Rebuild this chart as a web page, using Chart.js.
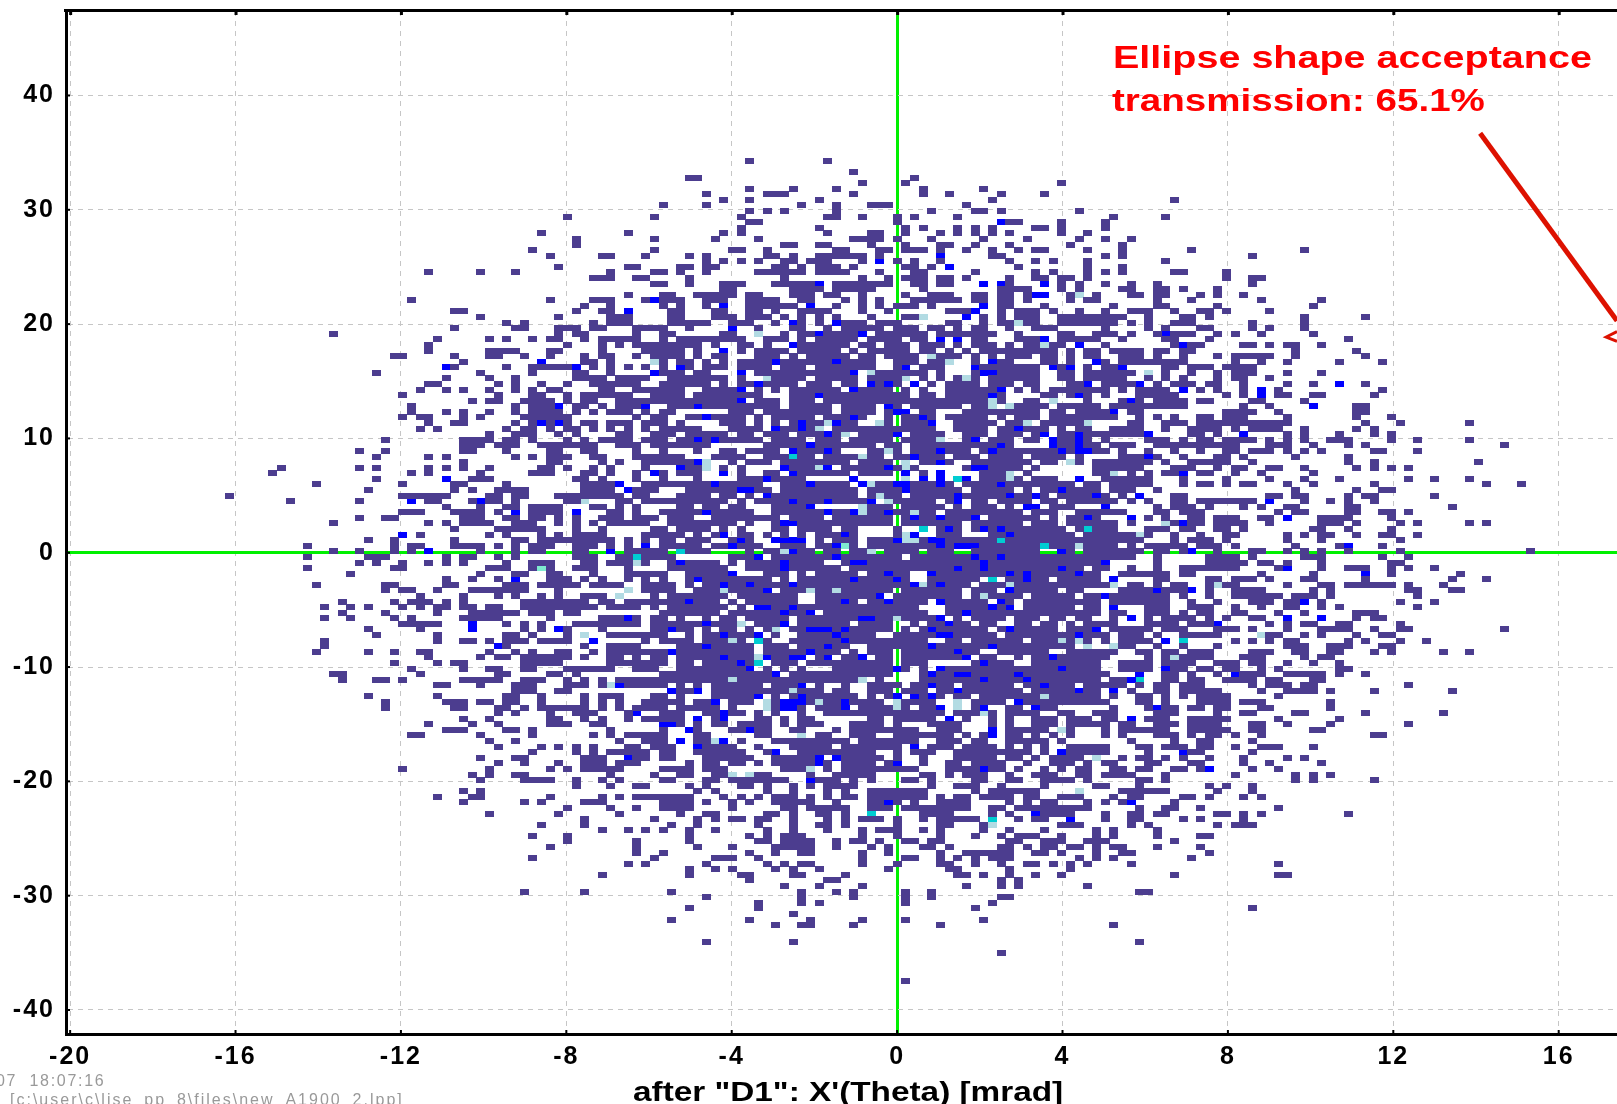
<!DOCTYPE html>
<html><head><meta charset="utf-8">
<style>html,body{margin:0;padding:0;background:#fff}canvas{display:block}</style>
<script src="https://cdn.jsdelivr.net/npm/chart.js@4"></script>
</head><body><canvas id="c" width="1617" height="1104"></canvas>
<script>
// Histogram bins: [row index, "col col:col ..."]
// prefix b = blue, p = pale, c = cyan, t = aqua; no prefix = dark (count 1)
const upperLeft = [[60,"-38 -28"],[57,"-41 -31"],[56,"-37 -28"],[55,"-37"],[54,"-42 -28"],[53,"-40 -34:-33 -29"],[51,"-39 -31:-30"],[50,"-54 -48 -44 -33 -28"],[49,"-35:-33 -30:-29"],[48,"-28"],[46,"-31"],[45,"-56 -40 -35:-33 -29 b-28"],[44,"-36 -33"],[43,"-51:-50 -37 -34:-33 b-31"],[42,"-48 -39 -33:-31"],[41,"-45 -43 -35 -33:-31"],[40,"-51 -44:-43 -39:-37 -35:-34 -30:-27"],[39,"-65 -39 -37:-36 -30"],[38,"-53 -47 -45 -42 -40:-39 -36 -34:-30"],[37,"-54 -38 -34 -32 -30:-27"],[36,"-54 -47 -46:-44 -40:-39 -34 -29:-27"],[35,"-58:-57 -51 -47:-46 -43 -40 -36 -34:-33 -30 -28:-27"],[34,"-50 b-41 -36:-35 -33 p-28"],[33,"b-52 -51 -45 -42:-39 -38 b-37 -35 -33 -31 -29"],[32,"-60 -48 -42 -37:-36 -33 b-28"],[31,"-52 -47 -44 -37:-34 -32:-29"],[30,"-54:-53 -46 -44 -41 -38 -35:-30"],[29,"-55 -52 -50 -47 -44 -42 -40:-39 -34:-33 -30:-27"],[28,"-57 -46 -42:-41 -38 -36:-33 -32:-31 -28"],[27,"-49 -47:-46 -43:-40 -38 -36:-35 -32:-27"],[26,"-56 -44 -42:-40 b-39 -37:-36 -34 -32:-30 b-29"],[25,"-56 -52 -50 -47 -44 -42:-39 -37 -35 -33:-31 -29"],[24,"-57 -55:-54 -50 -48 -43:-38 -30 -28:-27"],[23,"-54 -51:-50 -44 -42 b-41 -40 b-39 -38 -36:-35 -33:-31 -29:-27"],[22,"-55 -53 -45 -43:-42 -40 -38:-37 -35 -33 -31 -29"]];
const middleLeftOuter = [[20,"-59"],[18,"-62 -59"],[17,"-60 -54 -52"],[15,"-71 -62 -60 -54 -52 -47"],[14,"-72 -56 -54"],[13,"-60"],[12,"-67 -57"],[11,"-61"],[10,"-77"],[9,"-70 -62 b-56"],[7,"-55"],[6,"-62 -59:-58"],[5,"-65 -54 -52"],[3,"b-57 -55"],[2,"-61 -58"],[1,"-68 -58 -56:-55"],[0,"-65 -62 -58 -56 b-54"],[-1,"-68 -61:-60 -59"],[-2,"-62 -60 -57 -54 -52"],[-3,"-68 -58:-57"],[-4,"-63"],[-6,"-67 -59:-58"],[-7,"-59 -57:-56 -53"],[-8,"-55"],[-9,"-64 -58 -56:-54"],[-10,"-66 -63 -61 -57 -55 -53"],[-11,"-64 -59"],[-12,"-66 -63 -58 -56"],[-13,"-57:-53"],[-14,"-61 -55"],[-15,"-60 -53"],[-16,"-66 -53"],[-17,"-66"],[-18,"-67 -61 -58 -55:-54"],[-19,"-54"],[-20,"-58 -53 -51:-50"],[-21,"-56 -50"],[-22,"-65:-64 -55"],[-23,"-64 -60:-59 -57"],[-24,"-53:-52"],[-26,"-61 -53"]];
const middleLeftInner = [[21,"-47 -44:-42 -39 -37 -32:-31 -28"],[20,"-50:-47 -45:-44 -42 -38 -36 -34:-31 -29:-27"],[19,"-50:-48 -46:-44 -41:-38 -37:-35 -32:-30 -28"],[18,"-50:-49 -45 -40:-39 -36:-35 -30"],[17,"-44 -42 -40:-38 -35:-34 -30:-27"],[16,"-50 -40:-39 -34 -32 -29:-27"],[15,"-50 -41:-40 -38 -35 -33 -29"],[14,"-48 -42:-40 -36:-35 -33 -30 b-28"],[13,"b-52 -49:-47 -37:-36 -34 -30"],[12,"-51:-50 -45 -36:-33 b-32 -29:-28"],[11,"-51 -49 -46:-45 -44:-43 -36:-33 b-31 -30:-28"],[10,"-57:-52 -47:-46 -44:-43 -39:-37 -36:-32 -30:-29"],[9,"-54:-53 -49 b-48 -47:-46 -44 -38:-37 p-36 -32:-31 -29:-27"],[8,"-52 -48 -45:-44 -42:-39 -35:-34 -32 -30"],[7,"-57:-56 -51:-48 -46 b-44 -42:-39 b-37 -33:-32 -30"],[6,"-50:-48 -45:-44 -42:-41 -39 -37 -34:-32 -30:-28 b-29"],[5,"-50:-47 -44:-42 -39 -37 -35 -33:-29"],[4,"-51 -46:-44 -43:-41 -37 -34 -28:-27"],[3,"-47 -45 -41 -39 -37:-34 -29:-27"],[2,"-51 -44:-43 -41:-38 -37:-33 -31 -29"],[1,"-51:-48 -46 -44 -42:-40 -37:-35 -33 -31 b-29"],[0,"-48 -44 -42:-41 -37:-36 b-33 -31:-27"],[-1,"-52 -50:-49 -46 -44 -37:-35 -32:-31 c-30 -29:-27"],[-2,"-50 -45 -42:-40 -36:-35 -33:-31 p-30 -29"],[-3,"-47:-45 -42 t-41 -40 -37:-35 -31"],[-4,"-48 -44:-43 -40:-39 -35 -31:-27"],[-5,"-52 -49 -46 b-44 -40:-38 -36 -34 -31 -29"],[-6,"-52:-51 -45:-43 -41:-37 -35:-32 -29:-27"],[-7,"-49:-46 -45:-43 -39 p-31 -29:-28"],[-8,"-50 -46 -44 -41 -39 -36:-34 p-32 -28"],[-9,"-52 -50 -43:-36 -34:-33 -31:-28"],[-10,"-52 -50:-49 -47:-46 -43:-35 -33:-30 -28"],[-11,"-53 -49:-48 -47:-44 -42:-40 -38:-37"],[-12,"-50 -49:-46 -40 -34:-32 b-31 -30 -28:-27"],[-13,"b-49 -45 -43 -41 -37:-34 -33:-30 -28:-27"],[-14,"b-49 -43 -41 b-39 -38 -34 -28:-27"],[-15,"-45:-44 -42 -38 p-36 -33:-28"],[-16,"-50:-49 -47 -45:-43 -41:-38 b-35 -29 -27"],[-17,"b-46 -45 -36 -33:-30"],[-18,"-47 -44 -42 -39:-38 -35 -33:-27"],[-19,"-48 -46:-45 -43:-38 -36 -33:-32 -30 -28"],[-20,"-43:-39 -33:-28"],[-21,"-47:-46 -43:-42 -38:-33 -30:-28"],[-22,"-46:-45 -40:-39 -37"],[-23,"-50:-46 -43:-41 -38 -36 -34 -32:-27"],[-24,"-48 -44:-42 -38:-37 -36 -34 p-33 b-32 -31:-27"],[-25,"-44:-42 -39:-38"],[-26,"-45:-44 -41 -36 -34:-32 -28"],[-27,"-59 -52:-50 -48:-47 -45:-44 -41 -36 -34 -32 -29:-28"]];
const lowerLeft = [[-28,"-59 -51:-50 -46:-45 -43 -41:-37 -36 -34 -32 -30:-27"],[-29,"-46 -44 -40 -37:-36 -35 -31 b-30"],[-30,"-50 -47 -40:-39 -36 -34 -31 -29:-27"],[-31,"-54 -49 -46 -40:-38 -35:-34"],[-32,"-52:-50 -45:-44 -42 -33"],[-33,"-56:-55 -48 -42 -35 -33 -31:-28"],[-34,"-47 -44 -32 -29:-28"],[-35,"-46 -41 -39 -37 -35 -31:-30 -28:-27"],[-36,"-42 -37 -35 -33:-31 -30:-29"],[-37,"-48 -44:-43 -36:-34 b-31 -30:-29"],[-38,"-46 -43 -39 -36:-34 -32:-30"],[-39,"-57 -47 -40 -38 -36:-32"],[-40,"-49 -47 -44:-43 -33 -28"],[-41,"-48 -43:-40 -37 -34 -32"],[-42,"-37 -33 -30:-29"],[-43,"-50 -48"],[-44,"-53 -49:-48 -40 -34 -32 -30:-27"],[-45,"-50 -43 -41 -36:-34"],[-46,"-38 -33 -30"],[-47,"-47 -39 -32"],[-48,"-36 -28"],[-49,"-41 -36"],[-50,"-34 -31 -29"],[-51,"-42 -38"],[-52,"-38 -30"],[-53,"-40 -30"],[-54,"-30"],[-55,"-42 -28"],[-56,"-31 -29"],[-58,"-34"],[-61,"-43 -36"]];
const upperCentre = [[70,"-17 -8"],[68,"-5"],[67,"-24:-23 2"],[66,"-4 1 19"],[65,"-17 -12 -7 3 10"],[64,"-22 -15:-13 -5 3 6 12 17"],[63,"-20 -17 -9 11"],[62,"-27 -22 -11 -7 -3:-1 8"],[61,"-17 -15 -13 -7 4 9:10 12 21"],[60,"-18 -8:-7 -4 0 2 7"],[59,"-17:-16 0 b12 13:14 19"],[58,"-18 -9 1 3 7 9 11 16:17 19"],[57,"-20 -18 -8 -3:-2 1 5 7 9 11 13 19 22"],[56,"-21 -16 -5:-2 0 4 10 15 21"],[55,"-13:-12 -9:-8 -3 1 5:6 9 13 20"],[54,"-19:-18 -15 -7:-6 -2:-1 1:3 5 8 11 14 16:17 22"],[53,"-24 -22 -15:-14 -12 -9:-7 -6:-4 -2 b5 11:12"],[52,"-22 -20 -18 -16 -13:-12 -10:-8 -4 b-2 0 2 5 13 16 18 22"],[51,"-25:-24 -22:-21 -14:-13 -11 -9:-7 -5 1:2 4 b6 14 22"],[50,"-27 -25 -22 -16:-11 -9:-6 -2 2:3 9 16 18 22"],[49,"-24 -13 -4 -1 1:3 5:6 8 13 16:17 19:20 22"],[48,"-27 -24 -20:-19 -18 -14:-10 b-9 -7:-2 -1 2:3 5:6 b10 b12 13 b17 19 21"],[47,"-20:-19 -12:-10 -9 -7:-4 -3 3 12:15 19 21"],[46,"-27:-26 -23:-19 -17:-16 -12:-10 -8:-7 -4 1 4:6 9:10 12:13 15 b16:17 20 p21 23"],[45,"-27:-25 -22:-20 -17:-14 -11:-10 -6 -4 -2 2:3 4:7 9:10 12:13 15 20 22:23"],[44,"-27 -25 -22 b-20 -17:-12 b-10 -7 -4 -2 0:2 4 b10 12:13 17"],[43,"-26:-25 -21:-20 -17:-16 -14 -11:-8 -4 -1 6:8 b9 12 14:16 18 21"],[42,"-26:-25 -21:-19 -17:-15 -13 -11 -9 -7 -3 1:2 p3 b8 10 12 14:16 19:23"],[41,"-26:-24 -23:-22 -19:-17 -14 b-12 -11 -9 b-7 -6:-4 -2:0 6:7 10 12:13 p14 15:16 19:23"],[40,"-24 b-19 -16 -12:-11 -8 -6:-2 0:2 4:5 7 9:10 13 16:18"],[39,"-27:-26 -20:-19 p-16 -13 -11:-10 b-9 -8:-5 b-4 -2:1 2:3 5:6 7:11 14 19 20 23"],[38,"-27 -25:-20 -19:-18 -15 -14:-13 -11 -9:-6 -5 -3:0 2 3 b5 b7 9:10 14 15:16 b17 19:23"],[37,"-26:-23 -21 -18:-17 -15 b-12 -11:-7 -6 -4:-3 -1:1 3:5 7 9:11 13 15:16 p17 18 19 b21"],[36,"-27:-25 -23 b-20 -18 -16:-13 -11:-7 -5 -3:-2 -1:1 3:4 6 8 10:13 14:17 18 20 22:23"],[35,"-27:-25 -23 -21 -20 -16:-14 -12 -10:-6 -4 -3 -1:0 1:2 p4 5:7 9 11 13:15 17:18 20 22:23"],[34,"-27 -25:-24 -22 -20 -18:-15 b-14 -13:-10 -9:-8 b-7 -6:-3 0:2 4:5 p6 9 b11 12:13 17:18 20 b23"],[33,"-27 b-25 -24 -22:-20 -18:-15 -13 -12:-11 -9:-7 -6 -5:-4 -3 0 b1 3 4:5 b9 10 11:12 13:16 b18 19 b20 22"],[32,"-27:-25 -23:-22 b-18 -16:-10 -9:-8 -7 -6 b-5 p-3 -2:2 3 5 9 b10:11 12:13 14:16 19:20 22:23"],[31,"-26:-21 -20 -18 p-15 -14:-11 -9:-7 -6 -5 -3 -2:0 p1 3 5 7 p8 9 11:16 19:20 22:23"],[30,"-27:-24 -23:-22 -20 -18:-17 b-16 -15 -14:-12 -10 -9 -8 -6:-5 b-3 -2 b-1 0 b2 4 6:9 11:13 15:16 20 21 b22"],[29,"-27:-25 -22:-19 b-18 -16 -14 -12:-7 b-5 -4:-1 1 3 6:10 11 b12 14 16 18:23"],[28,"-27:-25 -23:-19 -18:-16 -12:-10 b-9 -8:-7 -6:1 3:4 6:10 b11 12 17 18 20 b21 22"],[27,"-26:-22 b-24 -21:-19 b-18 -16:-15 -14 -12:-10 -8:-7 -6:2 3:5 6:10 p11 12 15:16 p18 22"],[26,"-26 -25:-24 b-23 -22:-15 -14 -12:-8 -6:-4 -3 b-1 0 2:6 7 9:10 p11 p13 14:17 19:23"],[25,"-27:-26 -19:-17 -15:-11 -10:-8 -6:-3 -1 b0:1 3:4 8:16 18 19 21 22:23"],[24,"-24:-23 b-22 -21:-18 -16 -14:-10 -8 -7:-6 b-5 -4 -1 1 2 b3 4 6 7:10 12 14:16 18:23"],[23,"-27 -25 -20:-18 -16 -14 -12 b-11 -10:-9 p-8 b-7 -6 -5 p-2 -1 1:3 b4 7:11 13:14 p15 17:21 p22"],[22,"-27:-23 -19:-16 b-14 -13:-12 b-11 -10 p-9 -7 -6:0 1:4 7:10 12:13 b14 15:17 19 21 22"]];
const middleCentreTop = [[21,"-27:-26 -24:-20 -18:-17 -15:-13 -11:-9 b-8 -7 p-6 -4:-1 b0 2:5 8:10 12:14 16 b17 19:20 b21 22:23"],[20,"-27 -25:-24 b-23 -22 b-21 -20:-16 -14:-12 -11 -9:-7 -5:-4 -3:-1 1:4 p5 8 b9 11:13 15 16 b18 19 20 b21 22"],[19,"-27:-22 -15:-11 b-10 -9:-3 -1:0 2:11 b12 13 b18 19:20 b21 22:23"],[18,"-27 -23 -20:-19 -17:-14 b-12 -11:-10 -9 b-8 -7 -3:-2 p-1 0 2:4 b5 6:8 10 b11 12:18 b19 20 b21:22 23"],[17,"-27:-25 -21:-19 -18 -15:-13 c-12 -11:-10 -8:-5 p-4 -3 -2 0 1 b2 3:5 7:9 11:14 16:19 21"],[16,"-27:-24 b-23 p-22 -19 -17:-15 -13:-10 -9:-6 -4:-3 -2:-1 p1 3:4 b5 6 9:15 17:18 p20 21 23"],[15,"b-25 -24 -23 p-22 -20 -18 b-13 -12:-10 p-9 b-8 -6:-4 -3:-2 b-1 0 p1 2 8 b9:10 11:14 16 23"],[14,"-27 -25:-23 b-20 -18 -15:-14 b-12 -11:-7 -6 -4:-3 -2:-1 b1 3 b5 10:12 p13 15 23"],[13,"-27 -23 -18:-16 b-15 -14:-11 b-5 p1 b3 b5 c7 b8 10:12 p13 14 16:18 b21"],[12,"-27:-22 b-21 -20:-16 -13:-11 b-10 -9:-7 -6 b-4 p-3 -2:-1 b0:1 2:4 b5 6 8:11 b12 13:20 22:23"],[11,"-24:-19 b-18:-17 -16:-15 -13:-5 -3:-1 0 b1 2:7 9:13 15 17:18 b19 20:23"],[10,"-25:-22 -20:-19 -17 b-15 -14:-5 -3 p-2 -1:0 2:6 b7 8:12 b13 14:15 b16 17 19:22 b23"],[9,"-27:-20 -18 -16:-13 b-12 -11:-9 b-8 -7:-4 b-3 p-1 0:3 4 6 b7 9:10 12:15 17:18 20:23"],[8,"-25:-24 -22:-21 -19:-18 -14:-12 -11 b-10 p-4 -3:-1 1:5 7 9:11 13 b15:16 18:20"],[7,"-27:-23 b-22 -21:-17 -14 -13:-9 b-8 -7:-6 b-5 p-4 -3:-2 b-1 0:1 p2 3:4 6:14 16:18 21:23"],[6,"-26:-24 -21:-14 -12:-9 -7:-3 -2:-1 1 b2 3:4 b5 6:8 b9 11:16 18 20:21 b22 23"],[5,"-26:-19 -17 -14 b-13:-12 -11:-4 -3:-1 1:7 9:14 16:18 20:23"],[4,"-27 -25:-22 -20 -18 -14 -13 -11:-9 -8 -6:-5 0 c3 5 b6 7 9 b10 11 b12 13:16 17:19 21 c22 23"],[3,"-27:-25 -23 -21 b-20 -18:-17 -15 -13 -11 -9:-7 b-6 -5 0 p1 b2 5:7 11:12 b13 14:20 22:23"],[2,"-27:-26 -24:-22 -19 b-18 -17 b-14:-11 -9 -7:-5 -3:-1 b0 p1 p2 3 b4:5 6:11 c12 13:23"],[1,"-27:-23 -21:-20 b-19 -18:-16 -13 -12:-11 -9:-8 b-7 t-6 -5 -3:4 b5 6 b7:9 10:16 c17 18:20 p21 22:23"],[0,"-27 c-25 -24:-23 -22 -17 -15 -14 p-13 b-12 -11:-10 -8:-7 -5 -4 p-3 -1:2 4:6 9 10:16 b19 20 22:23"]];
const middleCentreLow = [[-1,"-27:-26 -19 -18:-17 b-16 -14:-13 -12:-8 b-7 -6:0 2:8 b9 10:11 b12 13:23"],[-2,"-26 b-25 -24:-21 -19 -17:-15 -14 b-13 -12:-9 -6 b-5:-4 -3:9 b10 11:23"],[-3,"-26:-20 -17:-14 b-13 -12:-7 -5:-2 -1:6 b7 8:9 b10 11:18 b19 20:21 23"],[-4,"-27 -24:-20 b-19 -15:-13 -11 -9:-5 -3:-2 b-1 0:1 b4 5:12 b13 14 b15 16:20 b21 22:23"],[-5,"-27 -24 b-23 -22:-15 -13 -11:-6 b-5 -4:-2 -1 b0 1 4:5 6:9 c11 13:14 b15 16:17 19:23"],[-6,"-27:-26 -24 -22:-21 b-20 -19:-18 b-17 -16:-13 b-12 -11:-3 -2 -1 0:1 b2 p3 4 b5 6:8 10:12 p13 14:23"],[-7,"-27 -26 -23:-21 p-20 -19:-16 b-15 -13:-11 p-10 -9:-8 p-7 -6:-3 -2:-1 1:7 9:11 b13 14:18 20:21"],[-8,"-26:-20 -18:-16 -15:-12 -9:-5 -4 -3 b-2 0:7 9 p10 11:14 16:20 22:23"],[-9,"-27:-25 b-24 -23:-21 -19 -17:-12 -9:-7 b-6 -5 -3:-2 b-1 0:3 b5 6:10 b12 13 15:23"],[-10,"-26:-22 -21:-20 -18 b-16:-15 -14:-13 b-12 -11:-9 -8:-1 0:2 6:10 b11 12 b13 15:20 22:23"],[-11,"-27:-21 -19 -18:-14 b-13 -12:-11 b-10 -8:-1 0:2 3 6:7 b8 9:15 16:23"],[-12,"-27 -25 -22 -20:-19 -17:-13 -11:-5 b-4:-3 -2:-1 p0 1:4 b5 7 9:12 14:16 18 19 21:22"],[-13,"-27:-24 -23 b-22 -21:-19 p-18 -16:-15 -14 b-13 -11:-6 -4:-2 -1 2 4:5 b6 7:8 10:11 14:15 17:18 20 22:23"],[-14,"-27 b-26 -25:-24 -22 -20:-19 -17 -15 p-14 -12:-11 b-10:-8 -7 b-6 -5:-2 -1 1 3 b4 5:10 12 b13 14:18 20 21:22 b23"],[-15,"-27 -24 -22:-21 b-20 -19:-17 b-16 -14 -11:-8 b-7 -6:-3 0:2 3:4 b5:6 7:11 13:20 b21 22:23"],[-16,"-27:-24 -22:-20 p-19 -18 c-16 -15 -12:-7 b-6 -5:-1 0:3 6:7 9:14 16:18 p19 20 p21 22"],[-17,"-25:-24 -23 b-22 -21:-17 -15:-13 -11:-9 b-8 -7:-6 -3:3 b4 5:9 10 b11 12:20 p22"],[-18,"b-26 -25:-22 -21:-17 -15:-11 b-10 -9:-7 -5 -3:-1 1:6 b7 8:9 12:17 20:23"],[-19,"-27 -25:-21 b-20 -19:-17 p-16 b-15 -14:-13 b-12:-11 -9 b-8 -6:-5 b-4 -2 -1 1:7 b8 10:11 14 16:17 b18 19:23"],[-20,"-27 -25:-24 -22:-19 b-18 -17 c-16 -14:-12 -10:-7 -6:-2 -1 1:3 9 b10 11:13 16:23"],[-21,"-25:-18 b-17 -15 -13 -11 -7:-1 b0 1 3 b5 6:18 b19 20:23"],[-22,"-27:-15 b-14 -12:-2 -1 3 b4 5:6 b7:8 9:13 b14 15:23"],[-23,"-27:-20 p-19 -18:-15 -14:-10 -9:-6 -5 p-4 -2 3:9 b10 11:14 b15 16:23"],[-24,"-25 -23 -21 -20:-16 -14:-12 b-11 -9 -6 -3:-1 0 2:3 b4 5:6 8:13 15:16 b17 18:20 22:23"],[-25,"b-26 -25:-24 b-23 -21:-13 p-12 -11:-9 -7 -6 -3:-1 1:3 5:6 b7 8:14 16:20 b21 22:23"],[-26,"-27 -25 -21:-17 b-16 -14 -12 b-11 -10:-5 -3 -1 b0 b2 3 b4 5 7:8 10:16 p17 18:23"],[-27,"-27:-25 -23:-22 b-21 -19:-17 p-15 -14 b-13:-11 -10 p-9 -8:-7 b-6 -5:-2 p0 1:4 p7 9:12 b14 15:23"]];
const lowerCentre = [[-28,"-25:-23 -22:-21 -19 p-15 -14 b-13:-12 -11 -9:-7 b-6 -4:-1 p0 1 3:4 b5 p7 9 b10 13:14 b16 17:18"],[-29,"-27:-25 -22:-21 b-20 -19:-18 -16 -14 -11 -8:-5 -4:-1 0:5 7:9 p10 11 13:16 19:20 23"],[-30,"-27:-25 b-23 -21 b-20 -16:-15 -13 -11:-10 -3:-2 0 1:4 b6 8 11 13 16:18 20:22"],[-31,"b-27:-26 -25 -23 -21:-20 -18:-15 -13 -11:-9 -5:-2 0 4:7 11 13 16:18 20:23"],[-32,"-27 b-24 -23 -19:-18 b-17 -16:-15 -12 -11 -7 -5:-1 0:2 5:7 b11 13:15 16:17 p19 20"],[-33,"-27 -23 -22 -16:-15 p-11 -9:-8 -5:-3 0:6 8 10 b11 13:14 16 18 20"],[-34,"-27 b-25 -23:-22 p-21 b-20 -18 -14:-12 -11:-7 -6 -4:-1 0:2 5:7 9:10 13:15 16:17 19"],[-35,"-27:-26 b-23 -22:-19 -16 -12:-8 -6:-3 -2:-1 0 b2 4:6 8:11 13 15 17 20:23"],[-36,"-27:-26 -23:-18 -15 b-14 -11:-4 -3 0 2:3 4 7:11 12:15 17 b19 20:23"],[-37,"-27:-26 -22:-20 -19:-17 -14:-10 b-9 b-7 -6:-2 0 3 7:11 13:14 16 18:21 p23"],[-38,"-24 -22:-21 -19:-18 -16 -14:-10 b-9 -8 -6 -5:-4 -3 -1 b0 3 6:7 9:11 12 15 18:20 22"],[-39,"-27:-24 -22:-20 -13:-11 p-10 -8 -6:-3 -2:2 6:7 8:9 b10 11:12 14 17 19 21:22"],[-40,"-25:-24 -21:-20 p-19 p-17 -16:-15 -10 -7:-4 -3 3:4 6 8:10 13 16:18 21:22"],[-41,"-27:-26 -22:-21 -19:-13 b-10 -9:-7 -5 -3 1:2 4 9:10 13:14 17:20 22"],[-42,"-24 -22 -18:-17 -15 -12 -10 -8:-6 -5 4 7:8 9 12 17 23"],[-43,"-23 -21 -15 -12 -8 -6 -3:3 9 11:16 p21"],[-44,"-27:-24 -20 -18 -16 -14:-12 -10 -8 -6:-5 -3:-1 0:3 5 7:8 10:13 15:16 19:21"],[-45,"-27 -26:-25 -24 -22 -19 -17 -14:-11 -10 -7 -3:-2 b-1 0 2 5:8 13 15 17:18 22"],[-46,"-27:-26 -25:-24 -19 -13:-12 -10:-8 -7:-6 -3:-1 1:5 6:8 11:12 14:19 20:21 22"],[-47,"-25 -22:-21 -15:-14 -12 -9:-8 -6 c-3 3:6 11 13 b16 17:20"],[-48,"-23 -21 -19:-18 -16:-15 -12 -8 -6 -4:-2 0 3 5:9 c11 14 16:17 b20"],[-49,"-26 -23 -16 -12 -9:-8 -6 0 5:6 10 p11 19:21"],[-50,"-27 -24 -21 -15 -12 -8 -4 -2:0 3 5 10 13 17 23"],[-51,"-24 -17 -15 -13:-11 -4 0 5 9 12 14:16 19 23"],[-52,"-24 -16 -15 -13:-10 -7 -5:-4 -2 1:2 4:5 13:14 17:18 19 22:23"],[-53,"-23 -19 -14:-10 -7 -3 -1 3:4 6 12:13 15 17:18 20:21 23"],[-54,"-27 -17 -14 -11:-10 -4 -1 5 8:13 16:17 19 23"],[-55,"-21:-19 -16 -4 1:2 5 7 9 11:13 21 23"],[-56,"-22 -15 -13 -11:-10 -4 0 5:6 9 12 15:16 18 20 22"],[-57,"-24 -21 -19 -14 -12 -9 -1 6:7 13 20"],[-58,"-24 -18:-17 -12:-11 -6 7:8 10 13 16 19"],[-59,"-17 -8:-7 12 14"],[-60,"-13 -9 -4 8 12 14 22"],[-61,"-26 -11 -7 -5 1 4"],[-62,"-22 -11 -5 1 4 12:13"],[-63,"-16 -11 -9 1 11"],[-64,"-24 -16 9"],[-65,"-12"],[-66,"-26 -17 -10 -4 1 10"],[-67,"-14 -11:-10 -5 5"],[-70,"-22 -12"],[-72,"12"],[-77,"1"]];
const upperRight = [[63,"32"],[60,"25 31"],[59,"24"],[58,"24"],[56,"24 27"],[55,"26"],[54,"26 34 47"],[53,"24 26 41"],[52,"31"],[51,"26"],[50,"24 26 32:33 38"],[49,"38 41:42"],[48,"24 27 30 41"],[47,"26:27 30:31 33 37"],[46,"27:28 30:31 35 37 40"],[45,"30 34 42 49"],[44,"25 30:31 37 48"],[43,"24 27:29 32 35:36 38 43"],[42,"24:26 29 33:34 36 47 54"],[41,"24:25 27 29 32:34 41 47"],[40,"24 29 31 35:36 41 43 47"],[39,"24:25 27 30 b31 32:34 37 39 42 48"],[38,"26 31:32 36 52"],[37,"24 32 b33 34:35 40:41 43 45:46 49"],[36,"25:28 30:31 33:34 46 53"],[35,"26:28 30 33 37 39:43 46 54"],[34,"24 26:33 39 42 45 51 56"],[33,"24:25 b26 31:32 34:36 38:40 41"],[32,"24:27 p29 31 34 37 39:41 45 49"],[31,"24:26 29 31 33 37 39:40 43"],[30,"24:27 b28 30 32:34 36:37 40 45 48 b51 54"],[29,"24 26 28:31 b33 35 37 40 b42 44 56"],[28,"24 28:32 38 40 b42 44:45 48:49 55"],[27,"26 b27 28 30:33 35:36 41:42 47"],[26,"25:29 30:33 40 43 b48 53:54"],[25,"24 b25 27:28 38:41 44 53:54"],[24,"24:25 28 30 32 35:36 38:40 45 53 57"],[23,"27:28 31:33 35:37 38:45 54 58 66"],[22,"25:28 31 34:37 39 41:44 47 53 55"]];
const middleRight = [[21,"24:28 b29 34:35 37 b40 45 47 51 55 57"],[20,"24 29:31 33 35:36 38:40 41 43 45 47 50:52 57 60 66"],[19,"25:27 30:39 43:45 48 52 54 70"],[18,"24 26 29 32 35 38:39 41:43 45 47 49 55:56 60"],[17,"26:28 b29 30 33 37:38 40 46 52"],[16,"24:29 31 34:37 38 41 52 55 67"],[15,"24:28 32:34 37 39:40 43:44 47 53 55 57 59"],[14,"24 p25 27 29 31:32 b33 35:36 39 42 48"],[13,"24:29 33 38 43 47 51 59 62 66"],[12,"25:29 33 35:36 38 40:41 45 48 55 68 72"],[11,"25:27 30 46 53 56:57"],[10,"b28 24 26 32:33 43:44 46:47 52 54:55 62"],[9,"24:25 27 29 32:33 35:41 b43 47 50 52 55"],[8,"b24 30 32:34 36 40 42 45:46 52:53 64"],[7,"24:26 30:31 33:35 44 46:47 52:53 56:57 59"],[6,"b27 29 31 34:35 37:39 42:43 b45 49:50 51:52 57"],[5,"24:25 27 p31 32 b33 34:35 37:39 40 43 49:50 51 53 58 60 66 68"],[4,"24:25 29:31 33:34 37:38 40 48:49 52 57"],[3,"24:27 p28 29 32 35 38:39 45 47 49:50 53 56:57 60"],[2,"24:28 32 34:36 38 45 49 58"],[1,"24:25 27 29:33 35:37 39 46 51 b52 56"],[0,"24:28 30:31 33 b34 37 41:42 45 47 49 52 58 73"],[-1,"24:27 30 36:39 41 47:48 49 56 59"],[-2,"b24 30 36:40 42:43 45 49 57:58"],[-3,"24 27 30 33:36 37:39 44 b45 49 52:54 57 59 62"],[-4,"26:31 33:34 42 48 b54 57 65"],[-5,"b25 30:31 36:37 39:41 43 47:48 54 64 68"],[-6,"24 p25 27:28 30 32:33 36 p37 38:39 45 49:50 52:57 59 63"],[-7,"26:29 b30 31:33 b34 36 39:42 48 50 59:60 64:65"],[-8,"b24 25 26:31 33 36 39:42 43 44 46:48 50 60"],[-9,"25:31 34 37 41:42 43 45:46 b47 49 58 62"],[-10,"b25 29:31 34:36 39 42 45:46 49 51 60"],[-11,"25:26 29:31 33 35:36 39:40 44 47 53:55"],[-12,"25 b27 29 31:34 36 38 41:42 b45 b49 53 55:56"],[-13,"24:25 29:32 34:35 36 b37 43 45 47:48 51:52 58"],[-14,"25:26 27:29 31:33 37:39 41 45 49:52 55 58:59 70"],[-15,"24 26:28 30 33:37 p42 43:44 47 49 53 56:57"],[-16,"24 26:29 b31 c33 39 41 43 45:46 52 54 58 61"],[-17,"p25 26:27 30 33 37 45:47 50:52 56:57"],[-18,"24:25 28:29 31:32 34:36 41:43 46:47 50:51 55 57 63 66"],[-19,"24 29 31 p32 33:35 36 40:42 47 49:50"],[-20,"26:29 31:34 37:39 41:42 45 48 51"],[-21,"26:29 b31 32:33 35:36 38 39 42 44 51:52"],[-22,"24 b28 31:32 34 37 b39 40:42 45:49 51 54"],[-23,"25:26 b27 c28 31:32 34:35 38:41 43:44 48:49"],[-24,"24:26 28 30 31 33:35 41 43:45 47:48 59"],[-25,"b25 27 30:31 33:37 42 45:48 50 55 64"],[-26,"25 28:29 31 33 35:38 44"],[-27,"24 28:29 31 35:38 40:42 50"]];
const lowerRight = [[-28,"25 29 b30 31:32 34:35 37:38 42:43 50"],[-29,"24:25 30:32 37 40:41 46:47 54 63"],[-30,"24:25 b27 29:31 34:38 44 51"],[-31,"24 26:27 30:32 34:37 41:42 45 50 59"],[-32,"24 26:31 34:38 41:42 48:49"],[-33,"24 26 30:32 34 36:37 39 42 55:56"],[-34,"27 32 35:36 41"],[-35,"24 28:29 31:33 35:36 39 42:44 48"],[-36,"24 29 b33 34:35 41"],[-37,"26 28:29 31 33 36 40 45 47"],[-38,"24:25 29:30 34:35 40 43 49"],[-39,"25:26 28:29 32:33 35 b36 41 44"],[-40,"24:27 31 39 46 48 50"],[-41,"28:29 31 46 48 55"],[-42,"24 28 36 38 41"],[-43,"26:31 37 41"],[-44,"25 27:28 33:34 36 40 42"],[-45,"24 26 b27 32"],[-46,"28 31:32 35 44"],[-47,"24 27:28 30:31 37:38 40 42 52"],[-48,"24 27:28 33 35 40"],[-49,"27 29 37 39:41"],[-50,"25 30"],[-51,"25 30 35:36"],[-52,"24 32"],[-53,"25:26 30 35"],[-54,"26:27 36"],[-55,"25 34"],[-56,"27 44"],[-58,"32 44:45"],[-61,"28:29"],[-64,"41"],[-67,"25"],[-70,"28"]];

const xTicks = [-20,-16,-12,-8,-4,0,4,8,12,16];
const yTicks = [-40,-30,-20,-10,0,10,20,30,40];
const xBinWidth = 0.2097, yBinHeight = 0.488, yBinOrigin = 0.12;
const arrowShaft = [[14.1,36.7],[17.41,20.3]];
const arrowHead = [[17.41,19.35],[17.15,18.87],[17.41,18.5]];
const noteLines = ["Ellipse shape acceptance","transmission: 65.1%"];
const xTitle = "after \"D1\": X'(Theta) [mrad]";
const footerLines = ["07  18:07:16","[c:\\user\\c\\lise_pp_8\\files\\new_A1900_2.lpp]"];

const sets = {'':[],b:[],p:[],c:[],t:[]};
[upperLeft,middleLeftOuter,middleLeftInner,lowerLeft,upperCentre,middleCentreTop,middleCentreLow,lowerCentre,upperRight,middleRight,lowerRight].forEach(zone=>{
  zone.forEach(([row,text])=>{
    text.split(' ').forEach(tok=>{
      const m = tok.match(/^([bpct]?)(-?\d+)(?::(-?\d+))?$/);
      if(!m) return;
      const a=+m[2], b=m[3]===undefined?a:+m[3];
      for(let i=a;i<=b;i++) sets[m[1]].push({x:i*xBinWidth,y:yBinOrigin+row*yBinHeight});
    });
  });
});
function cell(color){const k=document.createElement('canvas');k.width=9;k.height=6;const g=k.getContext('2d');g.fillStyle=color;g.fillRect(0,0,9,6);return k;}
const cellSet=(label,key,color)=>({label,data:sets[key],pointStyle:cell(color),pointRadius:4,showLine:false});
function wideText(ctx,text,x,y,stretch){ctx.save();ctx.translate(x,y);ctx.scale(stretch,1);ctx.fillText(text,0,0);ctx.restore();}
const framePlugin={id:'frame',
  beforeDraw(ch){ch.ctx.letterSpacing='2px';},
  afterDatasetsDraw(ch){
    const {ctx,chartArea:a,scales:{x,y}}=ch;
    ctx.save();ctx.letterSpacing='0px';ctx.fillStyle='#000';
    ctx.fillRect(a.left-2,a.top-2,a.right-a.left+2,3);
    xTicks.forEach(v=>{const p=x.getPixelForValue(v);ctx.fillRect(p-1,a.top,3,4);ctx.fillRect(p-1,a.bottom-4,2,4);});
    yTicks.forEach(v=>{const p=y.getPixelForValue(v);ctx.fillRect(a.left,p-1,4,2);});
    ctx.restore();
  },
  afterDraw(ch){
    const ctx=ch.ctx;ctx.save();
    ctx.textAlign='left';ctx.textBaseline='alphabetic';ctx.letterSpacing='0px';
    ctx.fillStyle='#ff0000';ctx.font='bold 32px "Liberation Sans"';
    wideText(ctx,noteLines[0],1113,68,1.235);
    wideText(ctx,noteLines[1],1112,111,1.205);
    ctx.fillStyle='#000';ctx.font='bold 28px "Liberation Sans"';
    wideText(ctx,xTitle,633,1101,1.19);
    ctx.fillStyle='#999';ctx.font='16px "Liberation Sans"';ctx.letterSpacing='1.7px';
    ctx.fillText(footerLines[0],-4,1086);
    ctx.letterSpacing='2px';
    ctx.fillText(footerLines[1],10,1105);
    ctx.restore();
  }};
new Chart(document.getElementById('c'),{
  type:'scatter',
  data:{datasets:[
    cellSet('single','', '#4c3d8f'),cellSet('two','b','#0000ff'),cellSet('three','p','#b2dbe3'),cellSet('four','t','#7fe9d0'),cellSet('five','c','#00cdd2'),
    {label:'arrow',data:arrowShaft.map(([x,y])=>({x,y})),showLine:true,pointRadius:0,borderColor:'#dd1100',borderWidth:5},
    {label:'head',data:arrowHead.map(([x,y])=>({x,y})),showLine:true,pointRadius:0,borderColor:'#dd1100',borderWidth:3}
  ]},
  options:{responsive:false,animation:false,events:[],
    layout:{autoPadding:false,padding:{top:11,left:0,right:0,bottom:0}},
    plugins:{legend:{display:false},tooltip:{enabled:false}},
    scales:{
      x:{type:'linear',min:-20.1,max:17.41,
        afterBuildTicks:s=>{s.ticks=xTicks.map(value=>({value}));},
        afterFit:s=>{s.height=70;s.paddingLeft=0;s.paddingRight=0;},
        ticks:{autoSkip:false,maxRotation:0,color:'#000',padding:8,font:{family:'Liberation Sans',size:25,weight:'bold'},callback:v=>String(v)},
        grid:{drawTicks:false,color:c=>c.tick&&c.tick.value===0?'#00f000':'#c6c6c6',lineWidth:c=>c.tick&&c.tick.value===0?3:1},
        border:{color:'#000',width:3,dash:c=>c.tick&&c.tick.value===0?[]:[5,5]}},
      y:{type:'linear',min:-42.1,max:47.39,
        afterBuildTicks:s=>{s.ticks=yTicks.map(value=>({value}));},
        afterFit:s=>{s.width=66;s.paddingTop=0;s.paddingBottom=0;},
        ticks:{autoSkip:false,color:'#000',padding:11,font:{family:'Liberation Sans',size:25,weight:'bold'},callback:v=>String(v)},
        grid:{drawTicks:false,color:c=>c.tick&&c.tick.value===0?'#00f000':'#c6c6c6',lineWidth:c=>c.tick&&c.tick.value===0?3:1},
        border:{color:'#000',width:3,dash:c=>c.tick&&c.tick.value===0?[]:[5,5]}}
    }},
  plugins:[framePlugin]
});
</script></body></html>
